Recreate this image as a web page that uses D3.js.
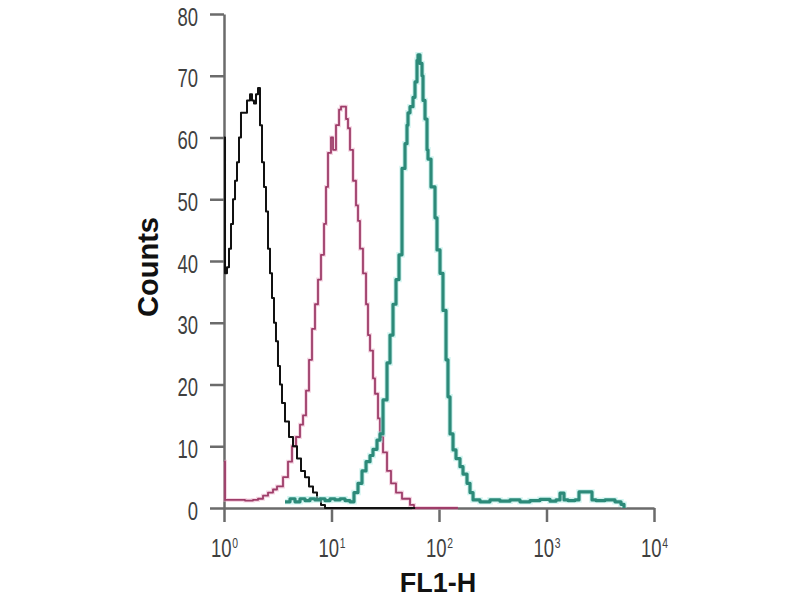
<!DOCTYPE html>
<html>
<head>
<meta charset="utf-8">
<script src="https://cdn.jsdelivr.net/npm/d3@7"></script>
<style>
  html, body { margin: 0; padding: 0; background: #fff; }
  svg { display: block; font-family: "Liberation Sans", Arial, sans-serif; }
</style>
</head>
<body>
<svg id="chart" width="800" height="600"></svg>
<script>
// ---- Data (FL1-H fluorescence value, event count) ----
const blackFL1 = [1.000, 1.022, 1.066, 1.113, 1.162, 1.213, 1.266, 1.321, 1.379, 1.439, 1.535, 1.637, 1.746, 1.822, 1.901, 1.985, 2.072, 2.162, 2.257, 2.356, 2.459, 2.567, 2.679, 2.796, 2.918, 3.045, 3.178, 3.318, 3.463, 3.693, 4.024, 4.385, 4.777, 5.204, 5.670, 6.177, 6.729, 7.331, 7.985, 8.700, 60.0];
const blackCounts = [60, 38, 39, 42, 46, 50, 53, 56, 60, 64, 64, 66, 67, 66, 65.5, 67, 68, 62, 56, 52, 48, 42, 38, 34, 30, 27, 23, 20, 17, 14, 11.5, 10, 8, 6, 5, 3.5, 2.5, 1.5, 0.5, 0, 0];

const pinkFL1 = [1.000, 1.022, 1.266, 1.568, 1.861, 2.072, 2.306, 2.567, 2.856, 3.112, 3.539, 3.938, 4.292, 4.676, 5.093, 5.432, 5.792, 6.177, 6.587, 7.023, 7.488, 7.985, 8.516, 8.888, 9.277, 9.892, 10.33, 11.01, 11.75, 12.26, 13.07, 13.65, 14.24, 14.86, 15.85, 16.90, 17.64, 18.41, 19.63, 20.95, 21.85, 22.82, 24.32, 25.39, 27.08, 28.27, 30.14, 32.84, 35.77, 39.81, 45.27, 53.74, 58.55, 150];
const pinkCounts = [7.5, 1.3, 1.3, 1.2, 1.3, 1.5, 2, 2.5, 3, 3.5, 5, 7.5, 10, 11.5, 13.5, 15, 19, 24, 29, 33, 37, 41, 46, 52, 57.5, 60, 58, 62, 64.5, 65, 65, 63, 61.5, 58, 53, 49, 46.5, 42, 38, 33, 28, 25.5, 21, 18.5, 14.5, 11.5, 9, 6, 4, 2.5, 1.5, 0.5, 0, 0];

const tealFL1 = [3.693, 4.111, 4.576, 5.093, 5.670, 6.310, 7.023, 7.816, 8.700, 9.683, 10.78, 12.00, 13.36, 14.86, 16.19, 17.64, 19.22, 20.95, 22.82, 24.32, 26.50, 28.27, 30.14, 32.84, 35.02, 37.34, 39.81, 42.46, 45.27, 48.28, 50.39, 51.48, 53.74, 57.30, 59.81, 62.43, 63.78, 66.57, 69.49, 71.00, 74.11, 77.35, 79.02, 84.27, 91.80, 95.81, 102.2, 108.9, 116.2, 121.2, 126.6, 135.0, 143.9, 156.8, 167.2, 182.2, 194.3, 207.3, 240.6, 298.1, 369.3, 457.6, 566.9, 702.3, 870.0, 1078, 1226, 1336, 1455, 1585, 1841, 2006, 2281, 2650, 2887, 3502, 4337, 4932, 5260];
const tealCounts = [1, 1.5, 1, 1.5, 1.2, 1.5, 1.3, 1.5, 1.2, 1.5, 1.3, 1.5, 1.2, 1, 2.5, 4, 6, 7.5, 8.5, 9.5, 11, 12, 17.5, 23.5, 28, 33, 37, 41, 55, 59, 62, 64, 65, 66.5, 69, 72.5, 73.4, 72, 70, 66, 63, 58, 56.5, 52, 47, 41.8, 38, 32, 24, 18, 12, 9.4, 8, 6.7, 5.5, 4, 2.5, 1.3, 1, 1.3, 1.1, 1.3, 1, 1.2, 1.4, 1.1, 1.3, 2.4, 1.3, 1.2, 1.3, 2.6, 2.6, 1.3, 1.2, 1.3, 1.0, 0.6, 0];

const xTickValues = [1, 10, 100, 1000, 10000];
const xTickExponents = ["0", "1", "2", "3", "4"];
const yTickValues = [0, 10, 20, 30, 40, 50, 60, 70, 80];
const xTitle = "FL1-H";
const yTitle = "Counts";

// ---- Chart ----
const svg = d3.select("#chart");
const x = d3.scaleLog().domain([1, 10000]).range([224, 654]);
const y = d3.scaleLinear().domain([0, 80]).range([508, 14]);

const axisColor = "#6b6b6b";
const labelColor = "#3f3f3f";
const sx = 0.74; // narrow tick-label glyphs

// Y axis
const gy = svg.append("g").attr("transform", "translate(224,0)")
  .call(d3.axisLeft(y).tickValues(yTickValues).tickSize(14).tickSizeOuter(0).tickFormat(d3.format("d")));
gy.select(".domain").attr("stroke", axisColor).attr("stroke-width", 2.5);
gy.selectAll(".tick line").attr("stroke", axisColor).attr("stroke-width", 2.5);
gy.selectAll(".tick text")
  .attr("font-size", 25).attr("fill", labelColor)
  .attr("x", -26 / sx).attr("dy", "0.44em")
  .attr("transform", `scale(${sx},1)`)
  .attr("font-family", "Liberation Sans, Arial, sans-serif");

// X axis
const gx = svg.append("g").attr("transform", "translate(0,508)")
  .call(d3.axisBottom(x).tickValues(xTickValues).tickSize(14).tickSizeOuter(0).tickFormat(""));
gx.select(".domain").attr("stroke", axisColor).attr("stroke-width", 2.5);
gx.selectAll(".tick line").attr("stroke", axisColor).attr("stroke-width", 2.5);
gx.selectAll(".tick text").remove();
gx.selectAll(".tick").each(function(d, i) {
  const t = d3.select(this).append("text")
    .attr("x", 0).attr("y", 49)
    .attr("text-anchor", "middle")
    .attr("transform", `scale(${sx},1)`)
    .attr("fill", labelColor)
    .attr("font-family", "Liberation Sans, Arial, sans-serif");
  t.append("tspan").attr("font-size", 25).text("10");
  t.append("tspan").attr("font-size", 14).attr("dy", -9).attr("dx", 1).text(xTickExponents[i]);
});

// Series
const line = d3.line().x(d => x(d[0])).y(d => y(d[1])).curve(d3.curveStepAfter);
const zip = (a, b) => a.map((v, i) => [v, b[i]]);

svg.append("path").datum(zip(pinkFL1, pinkCounts))
  .attr("d", line).attr("fill", "none")
  .attr("stroke", "#e8a6c4").attr("stroke-width", 4).attr("stroke-opacity", 0.45);
svg.append("path").datum(zip(pinkFL1, pinkCounts))
  .attr("d", line).attr("fill", "none")
  .attr("stroke", "#9e3d69").attr("stroke-width", 1.8).attr("stroke-linejoin", "round");

svg.append("path").datum(zip(blackFL1, blackCounts))
  .attr("d", line).attr("fill", "none")
  .attr("stroke", "#111").attr("stroke-width", 2).attr("stroke-linejoin", "round");

svg.append("path").datum(zip(tealFL1, tealCounts))
  .attr("d", line).attr("fill", "none")
  .attr("stroke", "#a8ece4").attr("stroke-width", 5.5).attr("stroke-opacity", 0.5);
svg.append("path").datum(zip(tealFL1, tealCounts))
  .attr("d", line).attr("fill", "none")
  .attr("stroke", "#2c8a79").attr("stroke-width", 3.2).attr("stroke-linejoin", "round");

// Titles
svg.append("text").attr("x", 438).attr("y", 592)
  .attr("text-anchor", "middle").attr("font-size", 27).attr("font-weight", "bold")
  .attr("fill", "#111").text(xTitle);
svg.append("text").attr("transform", "translate(158,267) rotate(-90)")
  .attr("text-anchor", "middle").attr("font-size", 29).attr("font-weight", "bold")
  .attr("fill", "#111").text(yTitle);
</script>
</body>
</html>
